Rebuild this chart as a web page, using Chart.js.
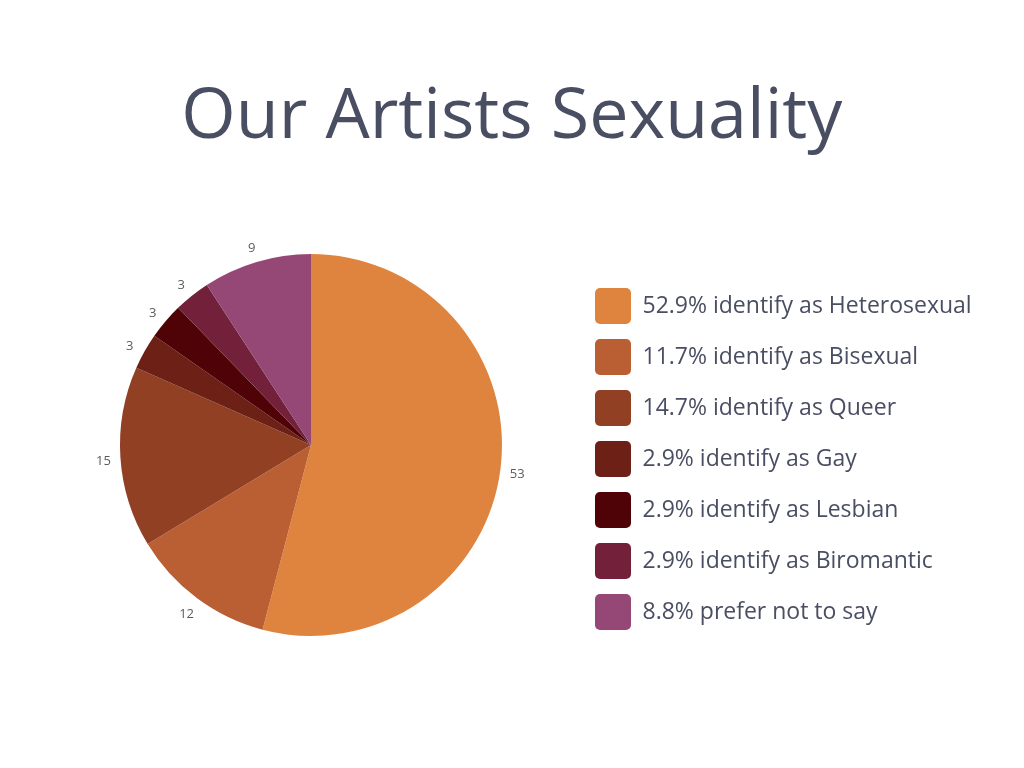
<!DOCTYPE html>
<html>
<head>
<meta charset="utf-8">
<script src="https://cdn.jsdelivr.net/npm/chart.js@4.4.1/dist/chart.umd.min.js"></script>
<style>
html,body{margin:0;padding:0;background:#fff;}
canvas{display:block;}
</style>
</head>
<body>
<canvas id="sexualityChart" width="1024" height="768"></canvas>
<script>
// data
const categories = ['Heterosexual','Bisexual','Queer','Gay','Lesbian','Biromantic','Prefer not to say'];
const counts = [53, 12, 15, 3, 3, 3, 9];
const legendLabels = [
  '52.9% identify as Heterosexual',
  '11.7% identify as Bisexual',
  '14.7% identify as Queer',
  '2.9% identify as Gay',
  '2.9% identify as Lesbian',
  '2.9% identify as Biromantic',
  '8.8% prefer not to say'
];
const sliceColors = ['#df843f','#ba5e33','#914024','#6c2016','#4f0306','#73213a','#954875'];

const FONT = "'Open Sans', 'Noto Sans', sans-serif";
const textColor = '#4a4e63';
const legendFontSize = 23;

/* work out right padding so the legend lands where it should */
let measure = document.createElement('canvas').getContext('2d');
measure.font = legendFontSize + "px " + FONT;
let maxW = 0;
legendLabels.forEach(function(t){ maxW = Math.max(maxW, measure.measureText(t).width); });
let legendW = 15 + 36 + legendFontSize/2 + maxW + 10;
let rightPad = Math.max(0, 1024 - 580 - legendW);

/* small value labels outside each slice */
const outsideLabels = {
  id:'outsideLabels',
  afterDatasetsDraw(chart){
    let ctx = chart.ctx;
    let meta = chart.getDatasetMeta(0);
    ctx.save();
    ctx.font = "13px " + FONT;
    ctx.fillStyle = '#5c5c5c';
    ctx.textAlign = 'center';
    ctx.textBaseline = 'middle';
    meta.data.forEach(function(arc, i){
      let p = arc.getProps(['x','y','startAngle','endAngle','outerRadius'], true);
      let mid = (p.startAngle + p.endAngle) / 2;
      let d = p.outerRadius + 17;
      ctx.fillText(String(counts[i]), p.x + Math.cos(mid)*d, p.y + Math.sin(mid)*d + 3);
    });
    ctx.restore();
  }
};

let ctx = document.getElementById('sexualityChart').getContext('2d');

new Chart(ctx,{
  type:'pie',
  data:{
    labels:categories,
    datasets:[{
      data:counts,
      backgroundColor:sliceColors,
      borderWidth:0,
      radius:191
    }]
  },
  options:{
    responsive:false,
    animation:false,
    layout:{padding:{top:0,bottom:123,left:42,right:rightPad}},
    plugins:{
      title:{
        display:true,
        text:'Our Artists Sexuality',
        color:textColor,
        font:{family:FONT,size:70,weight:'400',lineHeight:1.2},
        padding:{top:76,bottom:85}
      },
      legend:{
        position:'right',
        align:'end',
        labels:{
          boxWidth:36,
          boxHeight:36,
          padding:15,
          useBorderRadius:true,
          borderRadius:5,
          color:textColor,
          font:{family:FONT,size:legendFontSize},
          generateLabels:function(chart){
            return legendLabels.map(function(t,i){
              return {text:t, fillStyle:sliceColors[i], strokeStyle:sliceColors[i],
                lineWidth:0, hidden:false, index:i, fontColor:textColor, borderRadius:5};
            });
          }
        }
      },
      tooltip:{enabled:false}
    }
  },
  plugins:[outsideLabels]
});
</script>
</body>
</html>
